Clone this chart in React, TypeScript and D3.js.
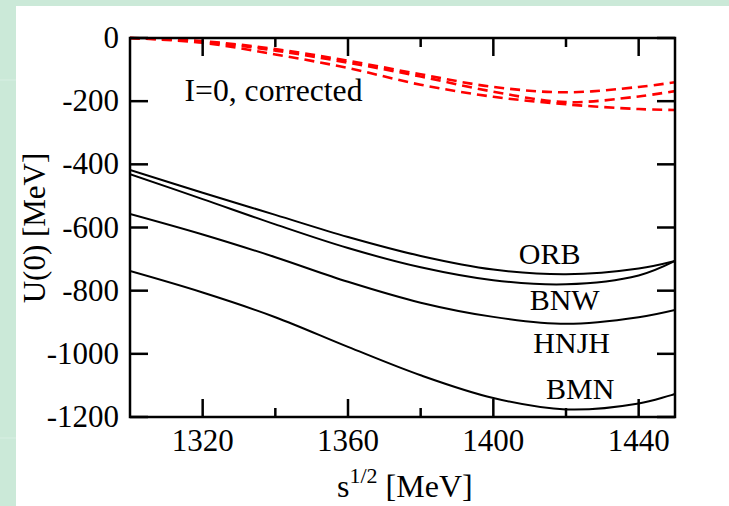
import React from "react";
import * as d3 from "d3";

// sqrt(s) grid in MeV
const energies = [1300, 1320, 1340, 1360, 1380, 1400, 1420, 1440, 1450];

// U(0) in MeV, I=0 corrected
const orb = [-418, -490, -560, -630, -690, -733, -748, -730, -706];
const bnw = [-431, -510, -590, -665, -726, -767, -780, -752, -706];
const hnjh = [-557, -622, -694, -772, -838, -883, -905, -884, -861];
const bmn = [-738, -806, -884, -978, -1068, -1140, -1176, -1157, -1127];

// red dashed curves
const redA = [0, -10, -35, -72, -115, -155, -172, -155, -140];
const redB = [0, -12, -40, -78, -122, -170, -203, -185, -168];
const redC = [0, -15, -52, -95, -148, -186, -210, -225, -228];

const xMajor = [1320, 1360, 1400, 1440];
const xMinor = [1340, 1380, 1420];
const yTicks = [0, -200, -400, -600, -800, -1000, -1200];

const blackSeries = [orb, bnw, hnjh, bmn];
const redSeries = [redA, redB, redC];

const curveLabels = [
  { text: "ORB", x: 1407, y: -716 },
  { text: "BNW", x: 1410, y: -861 },
  { text: "HNJH", x: 1411, y: -997 },
  { text: "BMN", x: 1414.5, y: -1143 },
];

export default function App() {
  const width = 729, height = 506;
  const left = 130, right = 675, top = 38, bottom = 417;
  const font = "'Liberation Serif', 'Times New Roman', serif";

  const x = d3.scaleLinear().domain([1300, 1450]).range([left, right]);
  const y = d3.scaleLinear().domain([-1200, 0]).range([bottom, top]);

  const line = (vals: number[]) =>
    d3
      .line<number>()
      .x((_, i) => x(energies[i]))
      .y((d) => y(d))
      .curve(d3.curveCatmullRom)(vals) as string;

  return (
    <>
      <style>{"body{margin:0}"}</style>
      <svg width={width} height={height} style={{ display: "block" }}>
        <rect width={width} height={height} fill="#cbe9d8" />
        <line x1={0} x2={16} y1={80} y2={80} stroke="#d8efe3" />
        <line x1={0} x2={16} y1={438} y2={438} stroke="#d8efe3" />
        <rect x={16} y={6} width={width - 16} height={height - 6} fill="#fff" />

        <defs>
          <clipPath id="plot">
            <rect x={left} y={top - 2} width={right - left} height={bottom - top + 4} />
          </clipPath>
        </defs>

        <g clipPath="url(#plot)">
          {redSeries.map((s, i) => (
            <path key={"r" + i} d={line(s)} fill="none" stroke="#ff0000" strokeWidth={2.6} strokeDasharray="10,6" />
          ))}
          {blackSeries.map((s, i) => (
            <path key={"b" + i} d={line(s)} fill="none" stroke="#000" strokeWidth={2} />
          ))}
        </g>

        {/* ticks */}
        <g stroke="#000" strokeWidth={2.5}>
          {xMajor.map((t) => (
            <g key={"xm" + t}>
              <line x1={x(t)} x2={x(t)} y1={bottom} y2={bottom - 18} />
              <line x1={x(t)} x2={x(t)} y1={top} y2={top + 18} />
            </g>
          ))}
          {xMinor.map((t) => (
            <g key={"xn" + t}>
              <line x1={x(t)} x2={x(t)} y1={bottom} y2={bottom - 9} />
              <line x1={x(t)} x2={x(t)} y1={top} y2={top + 9} />
            </g>
          ))}
          {yTicks.map((t) => (
            <g key={"y" + t}>
              <line x1={left} x2={left + 18} y1={y(t)} y2={y(t)} />
              <line x1={right} x2={right - 18} y1={y(t)} y2={y(t)} />
            </g>
          ))}
          <rect x={left} y={top} width={right - left} height={bottom - top} fill="none" />
        </g>

        <g fontFamily={font} fontSize={31} fill="#000">
          {xMajor.map((t) => (
            <text key={"xl" + t} x={x(t)} y={451} textAnchor="middle">
              {t}
            </text>
          ))}
          {yTicks.map((t) => (
            <text key={"yl" + t} x={119} y={y(t) + 10} textAnchor="end">
              {t}
            </text>
          ))}

          {/* x axis title */}
          <text x={337} y={497} fontSize={32}>
            s<tspan fontSize={22} dy={-14}>1/2</tspan>
            <tspan dy={14}> [MeV]</tspan>
          </text>

          <text transform="translate(45,228) rotate(-90)" textAnchor="middle">
            U(0) [MeV]
          </text>

          <text x={x(1315)} y={y(-198)} textLength={178} lengthAdjust="spacingAndGlyphs">I=0, corrected</text>
          {curveLabels.map((l) => (
            <text key={l.text} x={x(l.x)} y={y(l.y)} fontSize={30}>
              {l.text}
            </text>
          ))}
        </g>
      </svg>
    </>
  );
}
